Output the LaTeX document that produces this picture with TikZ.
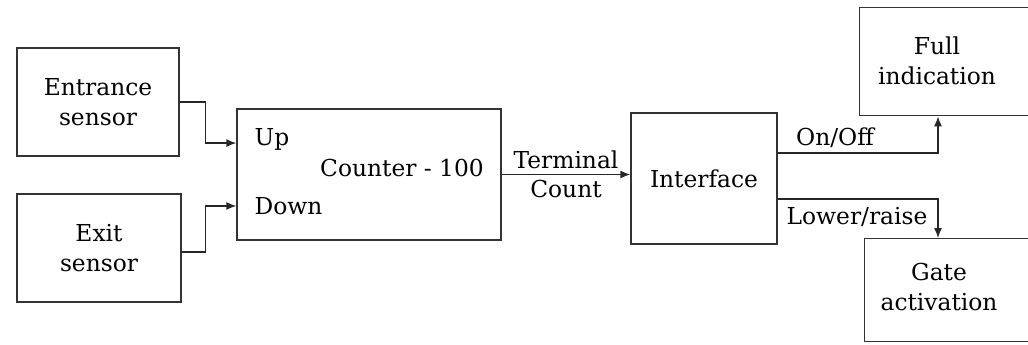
\documentclass[tikz,border=0pt]{standalone}
\usepackage{fontspec}
\setmainfont{DejaVu Serif}
\usepackage{tikz}
\usetikzlibrary{arrows.meta, positioning, calc}

\tikzset{
  block/.style={draw=black!80, line width=1pt, rectangle, inner sep=0pt},
  lbl/.style={text=black, font=\fontsize{17.5}{22.5}\selectfont, align=center, inner sep=1pt},
  link/.style={draw=black!85, line width=1pt, -{Latex[length=7.5pt,width=6pt]}}
}

\begin{document}
\begin{tikzpicture}[x=0.75pt, y=-0.75pt]

				\useasboundingbox (0,0) rectangle (1028,344);
				\clip (0,0) rectangle (1028,344);

				\node [block, minimum width=121.5pt, minimum height=81pt] (entrance) at (98,102) {};
				\node [block, minimum width=123pt, minimum height=81pt] (exit) at (99,248) {};
				\node [block, minimum width=198pt, minimum height=98.25pt] (counter) at (369,174.5) {};
				\node [block, minimum width=109.5pt, minimum height=98.25pt] (interface) at (704,178.5) {};
				\node [block, anchor=north west, minimum width=142.5pt, minimum height=81pt] (full) at (859,7) {};
				\node [block, anchor=north west, minimum width=142.5pt, minimum height=77pt] (gate) at (864,238) {};

				\node [lbl] (entrancetxt) at (entrance) {Entrance\\sensor};
				\node [lbl] (exittxt) at (exit) {Exit\\sensor};
				\node [lbl] (countertxt) at (402,168) {Counter - 100};
				\node [lbl, anchor=west] (uptxt) at (253,139) {Up};
				\node [lbl, anchor=west] (downtxt) at (253,206) {Down};
				\node [lbl] (interfacetxt) at (interface) {Interface};
				\node [lbl] (fulltxt) at (937,61) {Full\\indication};
				\node [lbl] (gatetxt) at (939,287) {Gate\\activation};

				\draw [link] (entrance.east) -- ++(26,0) |- ([yshift=23.6pt]counter.west);
				\draw [link] ([yshift=-3pt]exit.east) -- ++(24,0) |- ([yshift=-23.6pt]counter.west);

				\draw [link] (counter.east) -- (counter.east -| interface.west)
					node [lbl, midway, above=3pt] (termtxt) {Terminal}
					node [lbl, midway, below=3pt] (counttxt) {Count};

				\draw [link] ([yshift=19.1pt]interface.east) -| ([xshift=59.25pt]full.south west);
				\draw [link] ([yshift=-15.4pt]interface.east) -| ([xshift=55.5pt]gate.north west);

				\node [lbl] (onofftxt) at (835,138) {On/Off};
				\node [lbl] (lowertxt) at (857,217) {Lower/raise};

\end{tikzpicture}
\end{document}
